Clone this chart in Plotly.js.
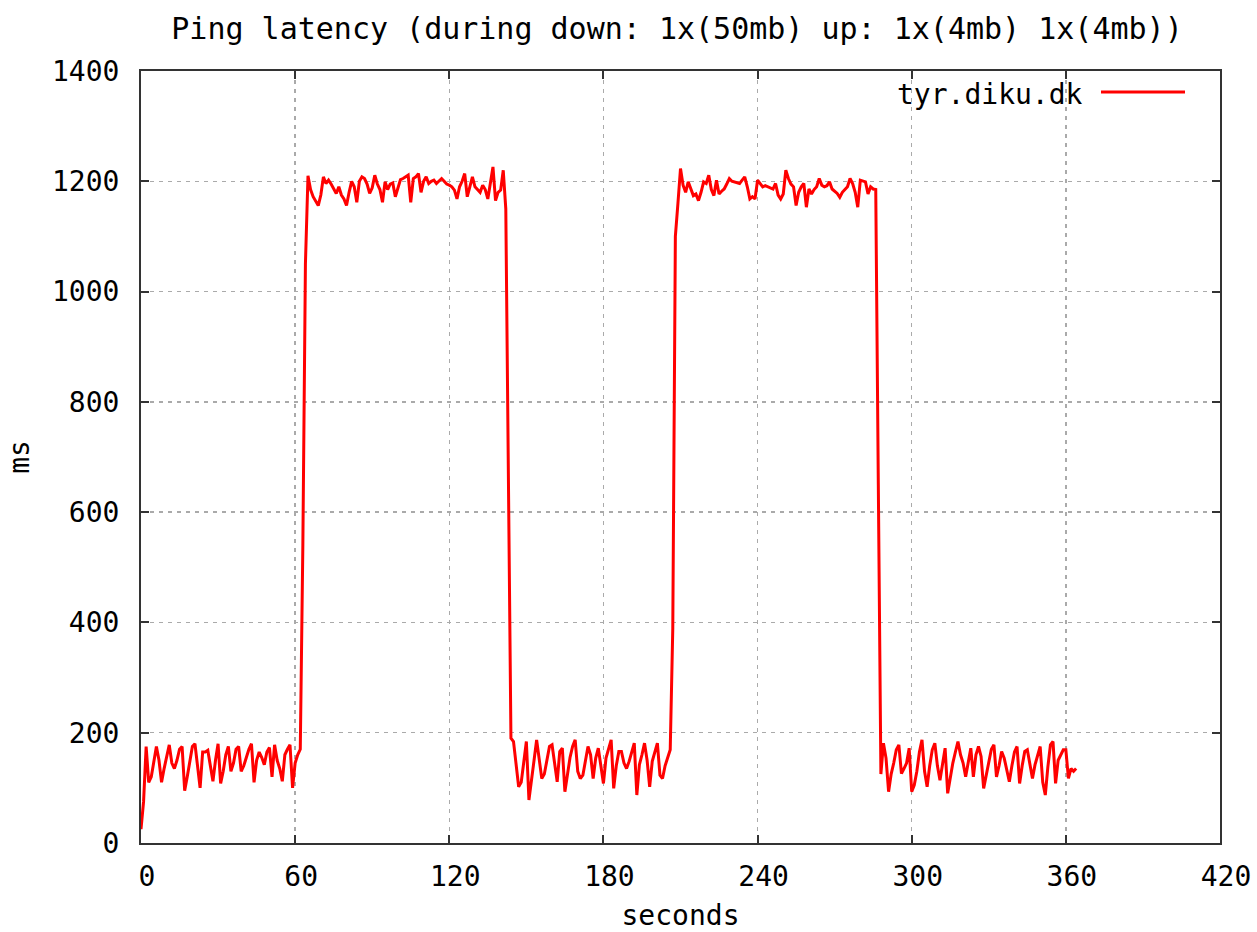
<!DOCTYPE html>
<html>
<head>
<meta charset="utf-8">
<script src="https://cdn.plot.ly/plotly-3.0.1.min.js"></script>
<style>
  html, body { margin: 0; padding: 0; background: #ffffff; }
  #chart { width: 1257px; height: 932px; }
</style>
</head>
<body>
<div id="chart"></div>
<script>
// ---- data ----
const chartTitle = "Ping latency (during down: 1x(50mb) up: 1x(4mb) 1x(4mb))";
const seriesName = "tyr.diku.dk";
const xAxisTitle = "seconds";
const yAxisTitle = "ms";
const xTickValues = [0, 60, 120, 180, 240, 300, 360, 420];
const yTickValues = [0, 200, 400, 600, 800, 1000, 1200, 1400];
const sampleIntervalSeconds = 1;

// ping latency in ms, one sample per second starting at t = 0
const latencyMs = [
  25, 75, 175, 110, 120, 150, 175, 150, 110, 135,
  160, 178, 145, 135, 150, 170, 175, 95, 120, 150,
  175, 180, 135, 100, 165, 165, 168, 140, 112, 150,
  180, 108, 130, 160, 175, 130, 145, 170, 175, 130,
  140, 155, 170, 180, 110, 150, 165, 155, 142, 165,
  173, 120, 178, 150, 135, 112, 160, 170, 178, 100,
  145, 160, 170, 540, 1050, 1210, 1185, 1172, 1165, 1156,
  1175, 1208, 1196, 1202, 1195, 1185, 1178, 1190, 1175, 1168,
  1156, 1180, 1200, 1190, 1162, 1200, 1208, 1205, 1195, 1178,
  1188, 1211, 1195, 1185, 1162, 1199, 1185, 1195, 1197, 1172,
  1190, 1203, 1205, 1208, 1211, 1162, 1205, 1208, 1214, 1180,
  1200, 1208, 1196, 1200, 1202, 1196, 1200, 1205, 1200, 1195,
  1193, 1190, 1184, 1168, 1190, 1200, 1214, 1172, 1190, 1208,
  1190, 1184, 1180, 1193, 1185, 1168, 1202, 1226, 1165, 1180,
  1184, 1220, 1150, 600, 190, 184, 148, 102, 110, 150,
  184, 78, 120, 150, 187, 150, 117, 125, 150, 175,
  178, 140, 111, 166, 172, 93, 125, 155, 175, 187,
  130, 117, 123, 150, 175, 160, 117, 154, 172, 140,
  108, 154, 170, 187, 99, 140, 166, 166, 145, 135,
  148, 165, 181, 87, 142, 160, 181, 150, 102, 148,
  165, 181, 123, 117, 140, 157, 169, 390, 1100, 1160,
  1223, 1193, 1180, 1199, 1185, 1174, 1177, 1165, 1180, 1199,
  1196, 1211, 1185, 1174, 1202, 1177, 1182, 1186, 1195, 1205,
  1200, 1199, 1197, 1196, 1202, 1208, 1190, 1168, 1172, 1168,
  1202, 1195, 1190, 1192, 1190, 1188, 1186, 1196, 1175, 1168,
  1177, 1220, 1205, 1195, 1190, 1156, 1180, 1190, 1196, 1153,
  1186, 1177, 1185, 1190, 1205, 1193, 1190, 1192, 1199, 1186,
  1182, 1178, 1171, 1180, 1185, 1190, 1205, 1196, 1180, 1153,
  1202, 1200, 1199, 1177, 1190, 1186, 1185, 650, 125, 181,
  154, 93, 125, 145, 169, 178, 126, 135, 145, 172,
  93, 105, 130, 165, 187, 130, 102, 140, 169, 181,
  140, 114, 145, 172, 90, 120, 145, 165, 184, 160,
  145, 120, 150, 172, 120, 160, 175, 157, 99, 125,
  148, 170, 178, 120, 140, 166, 154, 130, 111, 140,
  165, 175, 108, 140, 166, 169, 140, 117, 142, 160,
  175, 110, 87, 138, 178, 184, 108, 150, 160, 169,
  169, 117, 135, 130, 135
];
const seconds = latencyMs.map((_, i) => i * sampleIntervalSeconds);

// ---- styling ----
const FONT = "DejaVu Sans Mono, Liberation Mono, monospace";
const FS = 28;
const RED = "#ff0000";

const trace = {
  x: seconds,
  y: latencyMs,
  type: "scatter",
  mode: "lines",
  name: seriesName,
  line: { color: RED, width: 3 },
  showlegend: false,
  hoverinfo: "x+y"
};

const axisCommon = {
  showline: true,
  linecolor: "#333333",
  linewidth: 2,
  mirror: "ticks",
  ticks: "inside",
  ticklen: 8,
  tickwidth: 2,
  tickcolor: "#333333",
  showgrid: true,
  gridcolor: "#aaaaaa",
  gridwidth: 1.5,
  griddash: "4px,5px",
  zeroline: false,
  tickfont: { family: FONT, size: FS, color: "#000000" }
};

const layout = {
  width: 1257,
  height: 932,
  paper_bgcolor: "#ffffff",
  plot_bgcolor: "#ffffff",
  margin: { l: 141, r: 37, t: 71, b: 89, pad: 0 },
  font: { family: FONT, size: FS, color: "#000000" },
  title: {
    text: chartTitle,
    font: { family: FONT, size: 30, color: "#000000" },
    x: (677 - 141) / 1079, xref: "paper", xanchor: "center",
    y: 1 - 28 / 932, yref: "container", yanchor: "middle"
  },
  xaxis: Object.assign({}, axisCommon, {
    range: [0, 420],
    tickmode: "array",
    tickvals: xTickValues,
    ticktext: xTickValues.map(String),
    ticklabelshift: 6,
    ticklabelstandoff: 7,
    title: { text: xAxisTitle, font: { family: FONT, size: FS, color: "#000000" }, standoff: 27 }
  }),
  yaxis: Object.assign({}, axisCommon, {
    range: [0, 1400],
    tickmode: "array",
    tickvals: yTickValues,
    ticktext: yTickValues.map(String),
    ticklabelstandoff: 14,
    title: { text: yAxisTitle, font: { family: FONT, size: FS, color: "#000000" }, standoff: 14 }
  }),
  annotations: [{
    text: seriesName,
    xref: "paper", yref: "paper",
    x: (1085 - 141) / 1079, y: (843 - 94) / 772,
    xanchor: "right", yanchor: "middle",
    showarrow: false,
    font: { family: FONT, size: FS, color: "#000000" }
  }],
  shapes: [{
    type: "line",
    xref: "paper", yref: "paper",
    x0: (1101 - 141) / 1079, x1: (1185 - 141) / 1079,
    y0: (843 - 92) / 772, y1: (843 - 92) / 772,
    line: { color: RED, width: 3 }
  }]
};

Plotly.newPlot("chart", [trace], layout, { displayModeBar: false, staticPlot: true });
</script>
</body>
</html>
